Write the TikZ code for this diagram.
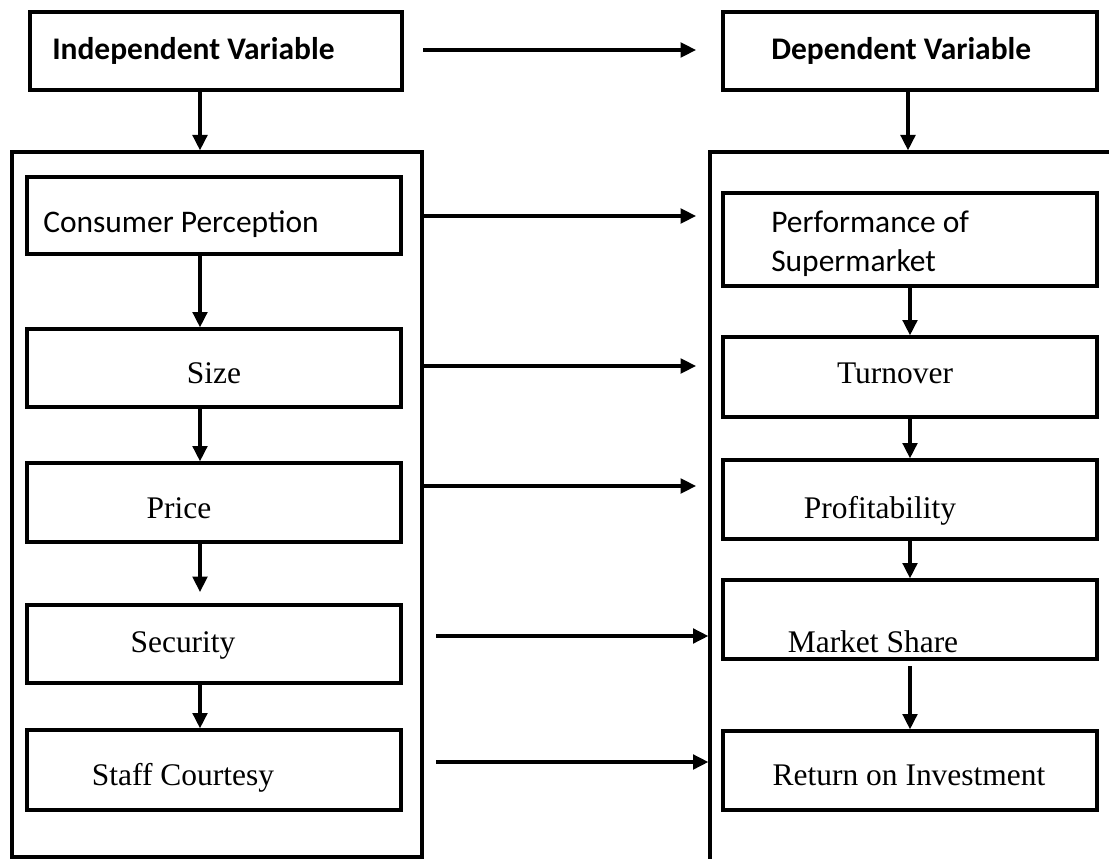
\documentclass[tikz,border=0pt]{standalone}
\usepackage{fontspec}
\setmainfont{Liberation Serif}
\newfontfamily\calfont{Carlito}
\usetikzlibrary{arrows.meta,fit}
\begin{document}
\begin{tikzpicture}[x=0.75pt,y=-0.75pt,
  box/.style={draw,line width=2.5pt,inner sep=0pt,rectangle},
  arr/.style={line width=2.3pt,-{Triangle[length=11.5pt,width=11pt]}},
  cal/.style={inner sep=0pt,font=\calfont\fontsize{23.6pt}{29.25pt}\selectfont},
  calb/.style={inner sep=0pt,font=\calfont\bfseries\fontsize{23.6pt}{29.25pt}\selectfont},
  tms/.style={inner sep=0pt,anchor=base,font=\fontsize{23.6pt}{29.25pt}\selectfont}]
\useasboundingbox (0,0) rectangle (1109,859);
\clip (0,0) rectangle (1109,859);
% top boxes
\node[box,fit={(30,12) (402,90)}] (ind) {};
\node[box,fit={(723,12) (1097,90)}] (dep) {};
\node[calb,anchor=base west] (indt) at (52,60) {Independent Variable};
\node[calb,anchor=base west] (dept) at (771,60) {Dependent Variable};
% outer boxes
\node[box,fit={(12,152) (422,857)}] (outL) {};
\node[box,fit={(710,152) (1140,900)}] (outR) {};
% left inner boxes
\node[box,fit={(27,177) (401,254)}] (cp) {};
\node[box,fit={(27,329) (401,407)}] (size) {};
\node[box,fit={(27,463) (401,542)}] (price) {};
\node[box,fit={(27,605) (401,683)}] (sec) {};
\node[box,fit={(27,730) (401,810)}] (staff) {};
% right inner boxes
\node[box,fit={(723,193) (1097,286)}] (perf) {};
\node[box,fit={(723,337) (1097,417)}] (turn) {};
\node[box,fit={(723,460) (1097,539)}] (prof) {};
\node[box,fit={(723,580) (1097,659)}] (ms) {};
\node[box,fit={(723,731) (1097,810)}] (roi) {};
% texts
\node[cal,anchor=base west] (cpt) at (43,233) {Consumer Perception};
\node[tms] (sizet) at (214,383) {Size};
\node[tms] (pricet) at (179,518) {Price};
\node[tms] (sect) at (183,652) {Security};
\node[tms] (stafft) at (183,785) {Staff Courtesy};
\node[cal,anchor=base west] (perft) at (771,233) {\begin{tabular}[t]{@{}l@{}}Performance of\\Supermarket\end{tabular}};
\node[tms] (turnt) at (895,383) {Turnover};
\node[tms] (proft) at (880,518) {Profitability};
\node[tms] (mst) at (873,652) {Market Share};
\node[tms] (roit) at (909,785) {Return on Investment};
% helper coordinates
\coordinate (xL) at (200,0);
\coordinate (xR) at (910,0);
\coordinate (xD) at (908,0);
\coordinate (topS) at (423,50);
\coordinate (topE) at (696,50);
\coordinate (h1) at (696,216);
\coordinate (h2) at (696,366);
\coordinate (h3) at (696,486);
\coordinate (h4) at (436,636);
\coordinate (h5) at (436,762);
\coordinate (g1) at (200,592);
\coordinate (g2) at (910,666);
% top arrows
\draw[arr] (topS) -- (topE);
\draw[arr] (ind.south -| xL) -- (outL.north -| xL);
\draw[arr] (dep.south -| xD) -- (outR.north -| xD);
% left chain
\draw[arr] (cp.south -| xL) -- (size.north -| xL);
\draw[arr] (size.south -| xL) -- (price.north -| xL);
\draw[arr] (price.south -| xL) -- (g1);
\draw[arr] (sec.south -| xL) -- (staff.north -| xL);
% right chain
\draw[arr] (perf.south -| xR) -- (turn.north -| xR);
\draw[arr] (turn.south -| xR) -- (prof.north -| xR);
\draw[arr] (prof.south -| xR) -- (ms.north -| xR);
\draw[arr] (g2) -- (roi.north -| xR);
% horizontal arrows
\draw[arr] (outL.east |- h1) -- (h1);
\draw[arr] (outL.east |- h2) -- (h2);
\draw[arr] (outL.east |- h3) -- (h3);
\draw[arr] (h4) -- (outR.west |- h4);
\draw[arr] (h5) -- (outR.west |- h5);
\end{tikzpicture}
\end{document}
